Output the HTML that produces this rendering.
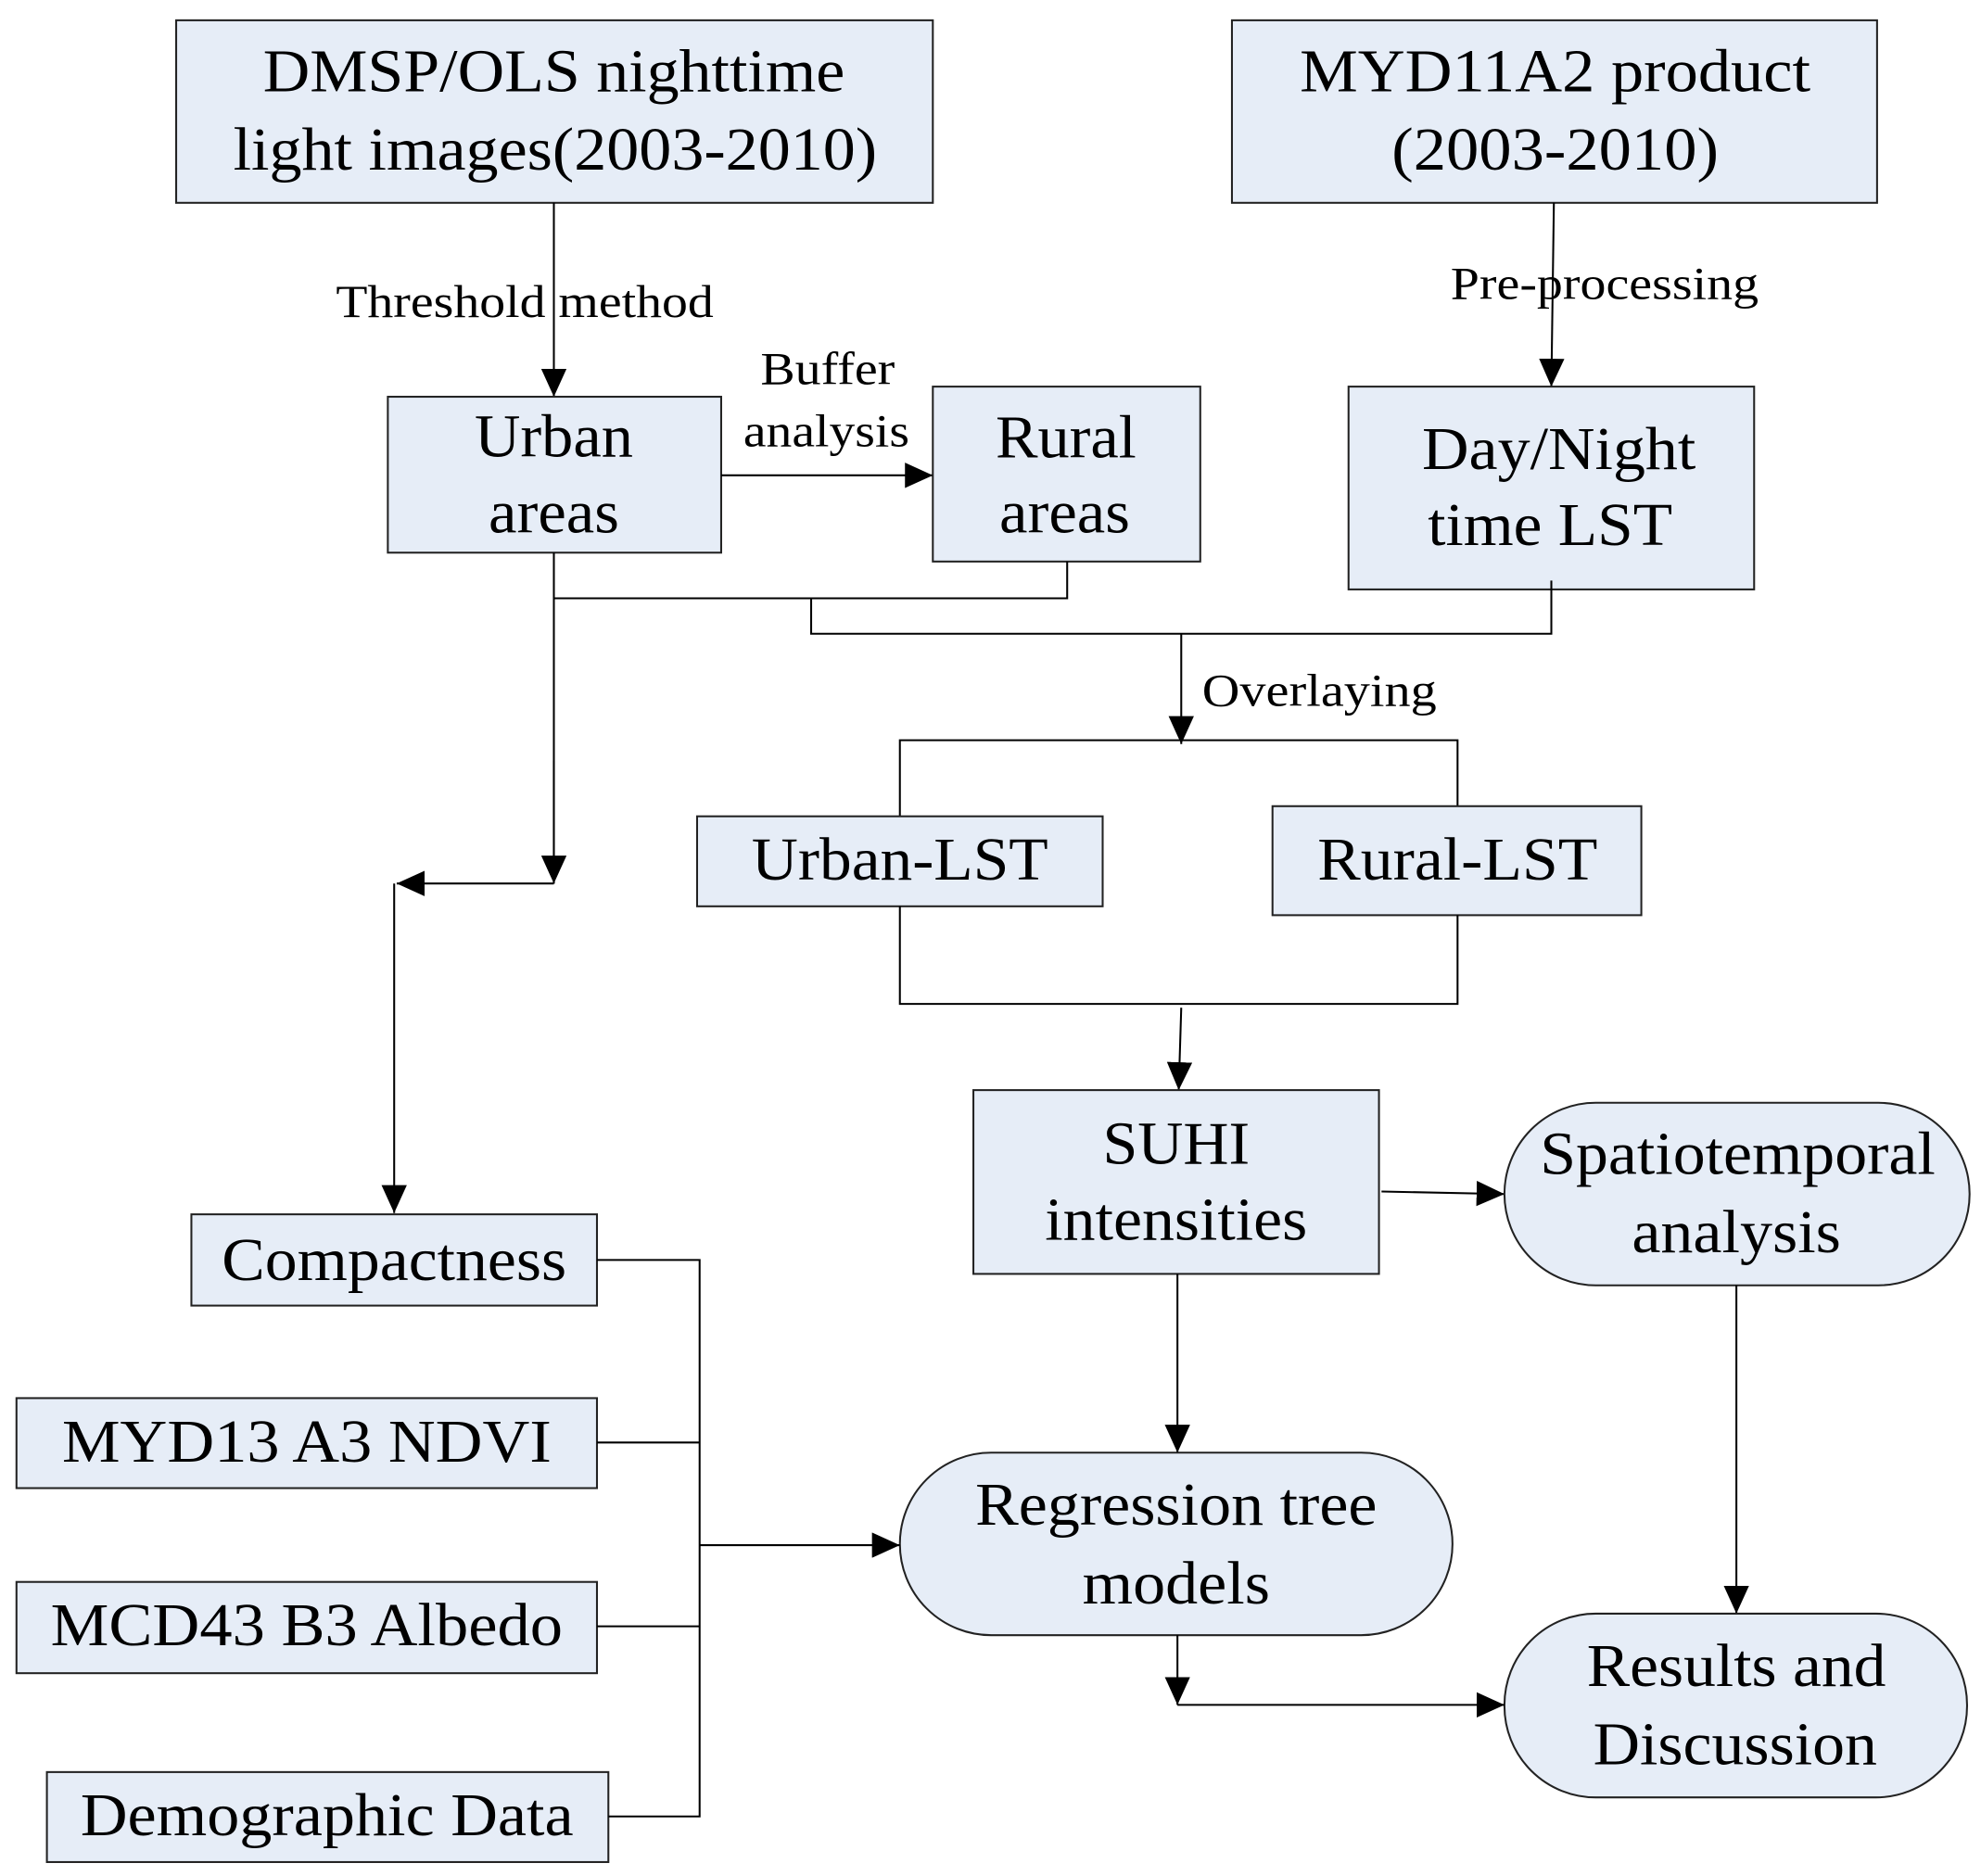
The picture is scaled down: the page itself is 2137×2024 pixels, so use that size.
<!DOCTYPE html>
<html><head><meta charset="utf-8"><style>html,body{margin:0;padding:0;background:#fff}svg{display:block}</style></head>
<body>
<svg width="2137" height="2024" viewBox="0 0 1563 1480" preserveAspectRatio="none" xmlns="http://www.w3.org/2000/svg" font-family="Liberation Serif, serif" fill="#000">
<defs>
<marker id="h" markerWidth="22" markerHeight="20" refX="22" refY="10" orient="auto" markerUnits="userSpaceOnUse"><path d="M0,0 L22,10 L0,20z"/></marker>
</defs>
<style>.b{fill:#e6edf7;stroke:#222;stroke-width:1.5}.l{stroke:#000;stroke-width:1.5;fill:none}.t{font-size:48px;text-anchor:middle}.s{font-size:36px;text-anchor:middle}</style>
<rect class="b" x="139" y="16" width="597" height="144"/>
<text class="t" x="437" y="72" textLength="459" lengthAdjust="spacingAndGlyphs">DMSP/OLS nighttime</text>
<text class="t" x="438" y="134" textLength="508" lengthAdjust="spacingAndGlyphs">light images(2003-2010)</text>
<rect class="b" x="972" y="16" width="509" height="144"/>
<text class="t" x="1227" y="72" textLength="403" lengthAdjust="spacingAndGlyphs">MYD11A2 product</text>
<text class="t" x="1227" y="134" textLength="258" lengthAdjust="spacingAndGlyphs">(2003-2010)</text>
<line class="l" x1="437" y1="160" x2="437" y2="313" marker-end="url(#h)"/>
<text class="s" x="414" y="250" textLength="298" lengthAdjust="spacingAndGlyphs">Threshold method</text>
<rect class="b" x="306" y="313" width="263" height="123"/>
<text class="t" x="437" y="360" textLength="125" lengthAdjust="spacingAndGlyphs">Urban</text><text class="t" x="437" y="420" textLength="103" lengthAdjust="spacingAndGlyphs">areas</text>
<line class="l" x1="569" y1="375" x2="736" y2="375" marker-end="url(#h)"/>
<text class="s" x="653" y="303" textLength="106" lengthAdjust="spacingAndGlyphs">Buffer</text><text class="s" x="652" y="352" textLength="131" lengthAdjust="spacingAndGlyphs">analysis</text>
<rect class="b" x="736" y="305" width="211" height="138"/>
<text class="t" x="841" y="361" textLength="111" lengthAdjust="spacingAndGlyphs">Rural</text><text class="t" x="840" y="420" textLength="103" lengthAdjust="spacingAndGlyphs">areas</text>
<line class="l" x1="1226" y1="160" x2="1224" y2="305" marker-end="url(#h)"/>
<text class="s" x="1266" y="236" textLength="243" lengthAdjust="spacingAndGlyphs">Pre-processing</text>
<rect class="b" x="1064" y="305" width="320" height="160"/>
<text class="t" x="1230" y="370" textLength="216" lengthAdjust="spacingAndGlyphs">Day/Night</text><text class="t" x="1223" y="430" textLength="193" lengthAdjust="spacingAndGlyphs">time LST</text>
<path class="l" d="M437,436 V697 M437,472 H842 V443 M640,472 V500 H1224 V458"/>
<line class="l" x1="437" y1="600" x2="437" y2="697" marker-end="url(#h)"/>
<line class="l" x1="932" y1="500" x2="932" y2="587" marker-end="url(#h)"/>
<text class="s" x="1041" y="557" textLength="185" lengthAdjust="spacingAndGlyphs">Overlaying</text>
<path class="l" d="M710,644 V584 H1150 V636"/>
<rect class="b" x="550" y="644" width="320" height="71"/>
<text class="t" x="710" y="694" textLength="234" lengthAdjust="spacingAndGlyphs">Urban-LST</text>
<rect class="b" x="1004" y="636" width="291" height="86"/>
<text class="t" x="1150" y="694" textLength="221" lengthAdjust="spacingAndGlyphs">Rural-LST</text>
<path class="l" d="M710,715 V792 H1150 V722"/>
<line class="l" x1="932" y1="795" x2="930" y2="860" marker-end="url(#h)"/>
<rect class="b" x="768" y="860" width="320" height="145"/>
<text class="t" x="928" y="918" textLength="116" lengthAdjust="spacingAndGlyphs">SUHI</text><text class="t" x="928" y="978" textLength="207" lengthAdjust="spacingAndGlyphs">intensities</text>
<line class="l" x1="1090" y1="940" x2="1187" y2="942" marker-end="url(#h)"/>
<rect class="b" x="1187" y="870" width="367" height="144" rx="72"/>
<text class="t" x="1371" y="926" textLength="312" lengthAdjust="spacingAndGlyphs">Spatiotemporal</text><text class="t" x="1370" y="988" textLength="165" lengthAdjust="spacingAndGlyphs">analysis</text>
<line class="l" x1="1370" y1="1014" x2="1370" y2="1273" marker-end="url(#h)"/>
<rect class="b" x="1187" y="1273" width="365" height="145" rx="72"/>
<text class="t" x="1370" y="1330" textLength="236" lengthAdjust="spacingAndGlyphs">Results and</text><text class="t" x="1369" y="1392" textLength="224" lengthAdjust="spacingAndGlyphs">Discussion</text>
<line class="l" x1="929" y1="1005" x2="929" y2="1146" marker-end="url(#h)"/>
<rect class="b" x="710" y="1146" width="436" height="144" rx="72"/>
<text class="t" x="928" y="1203" textLength="317" lengthAdjust="spacingAndGlyphs">Regression tree</text><text class="t" x="928" y="1265" textLength="148" lengthAdjust="spacingAndGlyphs">models</text>
<line class="l" x1="929" y1="1290" x2="929" y2="1345" marker-end="url(#h)"/>
<line class="l" x1="929" y1="1345" x2="1187" y2="1345" marker-end="url(#h)"/>
<line class="l" x1="437" y1="697" x2="313" y2="697" marker-end="url(#h)"/>
<line class="l" x1="311" y1="697" x2="311" y2="957" marker-end="url(#h)"/>
<rect class="b" x="151" y="958" width="320" height="72"/>
<text class="t" x="311" y="1010" textLength="272" lengthAdjust="spacingAndGlyphs">Compactness</text>
<rect class="b" x="13" y="1103" width="458" height="71"/>
<text class="t" x="242" y="1153" textLength="386" lengthAdjust="spacingAndGlyphs">MYD13 A3 NDVI</text>
<rect class="b" x="13" y="1248" width="458" height="72"/>
<text class="t" x="242" y="1298" textLength="404" lengthAdjust="spacingAndGlyphs">MCD43 B3 Albedo</text>
<rect class="b" x="37" y="1398" width="443" height="71"/>
<text class="t" x="258" y="1448" textLength="389" lengthAdjust="spacingAndGlyphs">Demographic Data</text>
<path class="l" d="M471,994 H552 V1433 H480 M471,1138 H552 M471,1283 H552"/>
<line class="l" x1="552" y1="1219" x2="710" y2="1219" marker-end="url(#h)"/>
</svg>
</body></html>
